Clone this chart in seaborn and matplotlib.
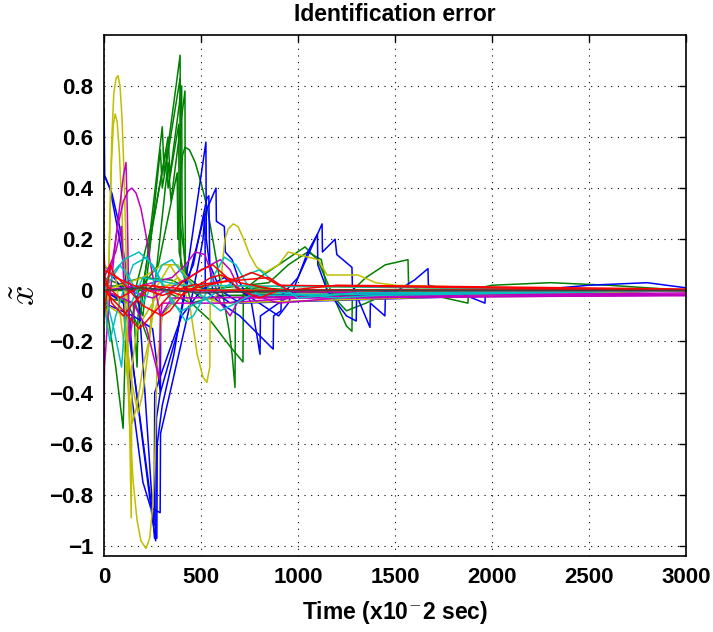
import pandas as pd
import matplotlib
matplotlib.use("Agg")
import matplotlib.pyplot as plt
import seaborn as sns

# MATLAB-like colour cycle
BLUE = (0, 0, 1)
GREEN = (0, 0.5, 0)
RED = (1, 0, 0)
CYAN = (0, 0.75, 0.75)
MAGENTA = (0.75, 0, 0.75)
YELLOW = (0.75, 0.75, 0)
GRAY = (0.25, 0.25, 0.25)

# identification error traces, (time, error)
green_1 = [(0, 0.0), (120, -0.05), (180, -0.15), (300, 0.64), (310, 0.45), (392, 0.92), (394, 0.25),
           (430, 0.05), (520, 0.0), (800, -0.01), (3000, 0.0)]
green_2 = [(0, 0.05), (150, 0.0), (200, -0.1), (290, 0.55), (300, 0.4), (392, 0.83), (395, 0.1),
           (450, -0.05), (600, -0.02), (3000, 0.0)]
green_3 = [(0, -0.03), (160, -0.05), (230, -0.2), (330, 0.5), (345, 0.35), (417, 0.78), (419, 0.02),
           (500, -0.03), (3000, 0.0)]
green_4 = [(0, 0.0), (60, -0.3), (98, -0.54), (110, -0.2), (180, 0.0), (280, 0.1), (377, 0.46),
           (380, 0.2), (395, 0.45), (405, 0.53), (417, 0.56), (440, 0.55), (470, 0.5), (500, 0.42),
           (530, 0.33), (560, 0.2), (590, 0.07), (620, -0.05), (645, -0.16), (660, -0.25),
           (675, -0.38), (677, -0.05), (750, 0.0), (3000, 0.0)]
green_5 = [(0, 0.02), (300, 0.0), (450, -0.05), (550, -0.12), (650, -0.22), (716, -0.28), (718, 0.0),
           (800, 0.05), (900, 0.1), (1036, 0.17), (1100, 0.12), (1180, -0.02), (1250, -0.14),
           (1278, -0.16), (1280, 0.0), (1350, 0.05), (1450, 0.1), (1567, 0.12), (1570, 0.02),
           (1700, -0.02), (1876, -0.05), (1880, 0.0), (2000, 0.02), (2300, 0.03), (2600, 0.02),
           (3000, 0.0)]
green_6 = [(0, 0.0), (500, 0.0), (850, 0.03), (950, 0.1), (1050, 0.15), (1120, 0.12), (1150, 0.0),
           (1250, -0.08), (1350, -0.05), (1500, 0.0), (2000, 0.01), (3000, 0.0)]
green_7 = [(0, 0.0), (150, -0.05), (170, -0.3), (175, -0.1), (250, 0.25), (330, 0.6), (340, 0.45),
           (400, 0.8), (402, 0.3), (420, 0.05), (480, 0.0), (3000, 0.0)]
green_8 = [(0, 0.0), (160, 0.0), (260, 0.3), (320, 0.55), (330, 0.4), (385, 0.65), (387, 0.15),
           (430, 0.0), (3000, 0.0)]
green_9 = [(0, 0.0), (100, 0.03), (200, 0.05), (350, 0.04), (400, 0.02), (600, 0.0), (800, 0.01),
           (1000, 0.0), (3000, 0.0)]

blue_1 = [(0, 0.71), (3, 0.45), (40, 0.38), (80, 0.25), (120, 0.05), (180, -0.05), (260, -0.97),
          (272, -0.97), (274, -0.6), (300, -0.45), (360, -0.25), (408, -0.03), (525, 0.58),
          (527, 0.2), (560, 0.0), (650, -0.05), (800, -0.02), (3000, 0.0)]
blue_2 = [(0, 0.45), (30, 0.4), (80, 0.2), (120, 0.0), (150, -0.3), (200, -0.6), (250, -0.9),
          (266, -0.98), (270, -0.5), (290, -0.4), (380, -0.16), (420, 0.0), (520, 0.3), (577, 0.4),
          (579, 0.27), (620, 0.25), (625, 0.15), (660, 0.12), (700, 0.03), (760, -0.05),
          (804, -0.25), (806, -0.1), (900, -0.05), (1000, 0.0), (3000, 0.0)]
blue_3 = [(0, 0.0), (100, -0.05), (140, -0.4), (200, -0.75), (240, -0.85), (289, -0.87), (291, -0.56),
          (340, -0.4), (400, -0.2), (460, 0.0), (510, 0.2), (520, 0.3), (522, 0.0), (600, -0.05),
          (700, -0.1), (872, -0.23), (874, -0.1), (912, -0.08), (914, -0.02), (1000, 0.05),
          (1124, 0.26), (1126, 0.15), (1191, 0.2), (1200, 0.14), (1278, 0.09), (1280, 0.02),
          (1371, -0.145), (1373, -0.05), (1448, -0.1), (1450, -0.03), (1600, 0.04), (1670, 0.085),
          (1672, 0.02), (1800, 0.0), (1964, -0.05), (1966, -0.01), (2200, 0.0), (2500, 0.02),
          (2800, 0.03), (3000, 0.01)]
blue_4 = [(0, 0.1), (100, 0.0), (150, -0.3), (220, -0.7), (258, -0.92), (261, -0.4), (330, -0.25),
          (400, -0.1), (500, 0.0), (620, 0.05), (700, 0.0), (800, -0.05), (900, -0.1), (950, -0.05),
          (1050, 0.15), (1100, 0.22), (1102, 0.1), (1150, 0.0), (1250, -0.1), (1300, -0.12),
          (1302, -0.02), (1500, 0.0), (3000, 0.0)]
blue_5 = [(0, -0.05), (150, -0.1), (250, -0.15), (290, -0.4), (292, -0.1), (350, -0.05), (400, 0.0),
          (460, 0.1), (500, 0.25), (530, 0.36), (540, 0.37), (545, 0.1), (600, 0.0), (700, -0.05),
          (3000, 0.0)]

yellow_1 = [(0, 0.0), (15, -0.15), (22, 0.0), (30, 0.3), (40, 0.6), (50, 0.77), (62, 0.83), (72, 0.84),
            (82, 0.8), (92, 0.68), (102, 0.48), (112, 0.2), (122, -0.15), (132, -0.55), (140, -0.89),
            (143, -0.3), (170, -0.15), (250, -0.05), (300, 0.02), (3000, 0.0)]
yellow_2 = [(0, 0.05), (20, -0.05), (28, 0.2), (38, 0.5), (48, 0.65), (57, 0.69), (67, 0.66),
            (78, 0.55), (90, 0.35), (102, 0.1), (115, -0.2), (130, -0.5), (150, -0.75), (170, -0.9),
            (190, -0.98), (216, -1.01), (235, -0.97), (250, -0.85), (262, -0.65), (268, -0.45),
            (272, -0.3), (300, -0.1), (400, 0.0), (3000, 0.0)]
yellow_3 = [(0, -0.05), (100, -0.1), (140, -0.35), (175, -0.48), (200, -0.4), (250, -0.1), (300, 0.0),
            (380, 0.05), (440, -0.05), (480, -0.25), (510, -0.34), (530, -0.36), (545, -0.3),
            (547, -0.05), (600, 0.0), (612, 0.12), (623, 0.2), (640, 0.24), (666, 0.26), (690, 0.25),
            (720, 0.2), (750, 0.14), (787, 0.09), (830, 0.07), (900, 0.1), (949, 0.15), (1000, 0.14),
            (1104, 0.12), (1150, 0.06), (1310, 0.06), (1400, 0.03), (1500, 0.02), (2000, 0.01),
            (3000, 0.0)]
yellow_4 = [(0, 0.1), (60, 0.05), (100, -0.2), (145, -0.52), (170, -0.45), (200, -0.3), (230, -0.2),
            (260, 0.0), (340, 0.1), (380, 0.05), (450, 0.0), (3000, 0.0)]
yellow_5 = [(0, 0.0), (200, 0.05), (300, 0.1), (380, 0.1), (430, 0.05), (500, -0.02), (600, -0.05),
            (3000, 0.0)]

magenta_1 = [(0, -0.5), (2, -0.3), (20, -0.1), (60, 0.2), (100, 0.45), (113, 0.5), (120, 0.3),
             (130, -0.2), (160, -0.05), (200, 0.0), (3000, -0.02)]
magenta_2 = [(0, 0.0), (40, 0.1), (70, 0.25), (100, 0.35), (125, 0.39), (144, 0.4), (165, 0.38),
             (190, 0.32), (215, 0.22), (240, 0.1), (265, 0.0), (290, -0.1), (300, -0.05), (400, -0.05),
             (600, -0.05), (1000, -0.03), (3000, -0.02)]
magenta_3 = [(0, 0.05), (60, 0.15), (90, 0.25), (100, 0.05), (120, 0.0), (250, -0.03), (550, 0.1),
             (600, 0.12), (650, 0.08), (700, 0.0), (900, -0.05), (1200, -0.03), (3000, -0.015)]
magenta_4 = [(0, 0.0), (150, -0.05), (220, -0.15), (285, -0.35), (290, -0.1), (350, -0.03), (3000, -0.01)]
magenta_5 = [(0, 0.0), (200, 0.02), (350, 0.05), (420, 0.1), (470, 0.15), (520, 0.14), (560, 0.05),
             (600, -0.05), (650, -0.1), (700, -0.03), (3000, -0.02)]

cyan_1 = [(0, -0.05), (30, -0.2), (60, -0.1), (100, 0.0), (150, 0.1), (220, 0.13), (280, 0.05),
          (350, -0.05), (400, -0.08), (480, -0.05), (600, 0.0), (700, 0.05), (800, 0.08), (900, 0.02),
          (1000, -0.03), (1300, -0.01), (3000, 0.0)]
cyan_2 = [(0, 0.03), (80, 0.1), (130, 0.05), (200, -0.05), (300, 0.1), (350, 0.12), (420, 0.05),
          (500, -0.02), (600, -0.08), (680, -0.05), (800, 0.0), (1200, -0.03), (1400, -0.02), (3000, 0.0)]
cyan_3 = [(0, 0.0), (50, -0.15), (90, -0.3), (110, -0.1), (200, 0.05), (400, 0.02), (3000, 0.0)]
cyan_4 = [(0, 0.0), (100, 0.12), (180, 0.15), (250, 0.1), (320, 0.0), (420, -0.12), (460, -0.1),
          (520, -0.02), (560, 0.05), (620, 0.13), (680, 0.1), (740, 0.02), (800, -0.02), (3000, 0.0)]

red_1 = [(0, 0.15), (5, 0.05), (40, -0.05), (100, -0.1), (150, -0.05), (250, 0.02), (400, -0.02),
         (550, 0.05), (600, 0.06), (700, 0.03), (900, 0.0), (3000, 0.0)]
red_2 = [(0, -0.1), (30, 0.1), (60, 0.05), (150, 0.02), (300, -0.02), (450, 0.02), (700, 0.04),
         (850, 0.05), (950, 0.0), (1200, 0.02), (3000, 0.005)]
red_3 = [(0, 0.03), (80, -0.03), (200, 0.02), (500, 0.0), (3000, 0.0)]
red_4 = [(0, 0.0), (100, -0.08), (180, -0.15), (220, -0.12), (300, -0.05), (400, 0.03), (500, 0.08),
         (560, 0.1), (620, 0.06), (700, 0.0), (800, -0.03), (900, 0.0), (3000, 0.0)]
red_5 = [(0, 0.08), (70, 0.05), (130, 0.0), (200, -0.06), (300, -0.1), (340, -0.08), (420, 0.0),
         (700, 0.05), (760, 0.07), (830, 0.05), (900, 0.02), (3000, 0.0)]

gray_1 = [(0, 0.0), (200, 0.01), (500, -0.01), (1000, 0.0), (3000, 0.0)]

traces = {
    "g1": (green_1, GREEN), "g2": (green_2, GREEN), "g3": (green_3, GREEN),
    "g4": (green_4, GREEN), "g5": (green_5, GREEN), "g6": (green_6, GREEN),
    "g7": (green_7, GREEN), "g8": (green_8, GREEN), "g9": (green_9, GREEN),
    "b1": (blue_1, BLUE), "b2": (blue_2, BLUE), "b3": (blue_3, BLUE),
    "b4": (blue_4, BLUE), "b5": (blue_5, BLUE),
    "y1": (yellow_1, YELLOW), "y2": (yellow_2, YELLOW), "y3": (yellow_3, YELLOW),
    "y4": (yellow_4, YELLOW), "y5": (yellow_5, YELLOW),
    "m1": (magenta_1, MAGENTA), "m2": (magenta_2, MAGENTA), "m3": (magenta_3, MAGENTA),
    "m4": (magenta_4, MAGENTA), "m5": (magenta_5, MAGENTA),
    "c1": (cyan_1, CYAN), "c2": (cyan_2, CYAN), "c3": (cyan_3, CYAN), "c4": (cyan_4, CYAN),
    "r1": (red_1, RED), "r2": (red_2, RED), "r3": (red_3, RED), "r4": (red_4, RED), "r5": (red_5, RED),
    "k1": (gray_1, GRAY),
}

rows = []
for name, (pts, _) in traces.items():
    for t, v in pts:
        rows.append({"series": name, "t": t, "v": v})
df = pd.DataFrame(rows)
palette = {name: col for name, (_, col) in traces.items()}

sns.set_style("white")
plt.rcParams["font.family"] = ["Liberation Sans", "DejaVu Sans"]
plt.rcParams["font.weight"] = "bold"
plt.rcParams["text.color"] = "black"
plt.rcParams["axes.labelcolor"] = "black"
plt.rcParams["xtick.color"] = "black"
plt.rcParams["ytick.color"] = "black"
plt.rcParams["mathtext.fontset"] = "cm"

fig = plt.figure(figsize=(7.13, 6.32), dpi=100)
ax = fig.add_axes([0.146, 0.120, 0.816, 0.825])

sns.lineplot(data=df, x="t", y="v", hue="series", palette=palette, sort=False,
             estimator=None, legend=False, linewidth=1.1, ax=ax)

ax.set_xlim(0, 3000)
ax.set_ylim(-1.04, 1.0)
ax.set_xticks([0, 500, 1000, 1500, 2000, 2500, 3000])
ax.set_xticklabels(["0", "500", "1000", "1500", "2000", "2500", "3000"])
yt = [-1, -0.8, -0.6, -0.4, -0.2, 0, 0.2, 0.4, 0.6, 0.8]
ax.set_yticks(yt)
ax.set_yticklabels(["\u22121", "\u22120.8", "\u22120.6", "\u22120.4", "\u22120.2", "0",
                    "0.2", "0.4", "0.6", "0.8"])
ax.tick_params(direction="in", top=True, right=True, length=5, width=1, labelsize=16, pad=8)
ax.grid(True, linestyle=(0, (1, 5)), color="black", linewidth=0.8)
for s in ax.spines.values():
    s.set_color("black")
    s.set_linewidth(1.2)

ax.set_title("Identification error", fontsize=16.5, fontweight="bold", pad=10)
ax.set_xlabel("Time (x10$^{-}$2 sec)", fontsize=16.5, fontweight="bold", labelpad=8)
ax.set_ylabel(r"$\tilde{x}$", fontsize=26, labelpad=4)

plt.savefig("out.png", dpi=100)
plt.close()
